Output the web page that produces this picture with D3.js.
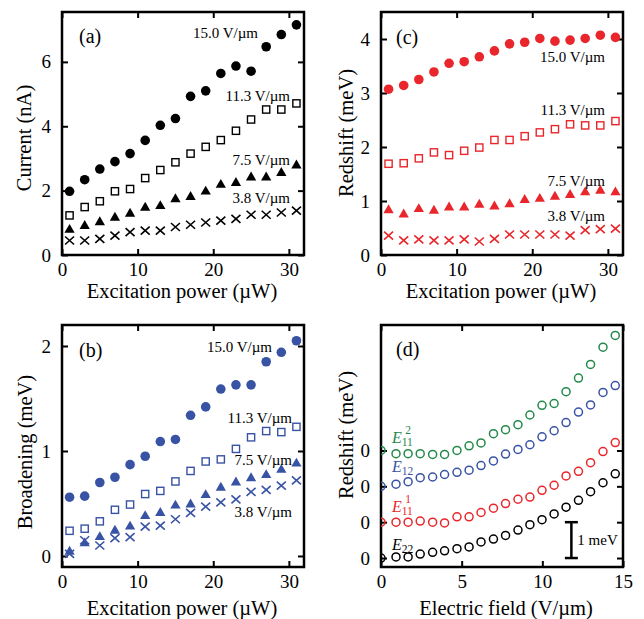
<!DOCTYPE html>
<html>
<head>
<meta charset="utf-8">
<script src="https://cdn.jsdelivr.net/npm/d3@7"></script>
<style>
    body { margin: 0; background: #fff; }
    svg text { font-family: "Liberation Serif", "Times New Roman", serif; }
</style>
</head>
<body>
<div id="graph"></div>
<script>
"use strict";

// excitation power (uW), shared by panels a-c
const power = [1, 3, 5, 7, 9, 11, 13, 15, 17, 19, 21, 23, 25, 27, 29, 31];
const fieldNames = ["15.0 V/\u00b5m", "11.3 V/\u00b5m", "7.5 V/\u00b5m", "3.8 V/\u00b5m"];

// (a) current (nA)
const cur150 = [1.98, 2.34, 2.67, 2.90, 3.15, 3.56, 4.03, 4.24, 4.93, 5.10, 5.64, 5.87, 5.71, 6.47, 6.85, 7.15];
const cur113 = [1.23, 1.49, 1.67, 1.98, 2.05, 2.39, 2.64, 2.88, 3.15, 3.36, 3.57, 3.86, 4.21, 4.52, 4.52, 4.71];
const cur75  = [0.78, 0.90, 1.02, 1.16, 1.28, 1.47, 1.52, 1.73, 1.80, 1.97, 2.18, 2.24, 2.41, 2.41, 2.55, 2.78];
const cur38  = [0.45, 0.45, 0.50, 0.60, 0.71, 0.76, 0.76, 0.87, 0.94, 1.01, 1.07, 1.12, 1.25, 1.25, 1.32, 1.38];

// (b) broadening (meV)
const brd150 = [0.56, 0.57, 0.70, 0.75, 0.87, 0.95, 1.09, 1.11, 1.34, 1.42, 1.59, 1.63, 1.63, 1.85, 1.94, 2.05];
const brd113 = [0.24, 0.26, 0.33, 0.44, 0.49, 0.59, 0.62, 0.71, 0.81, 0.90, 0.92, 1.02, 1.13, 1.19, 1.18, 1.23];
const brd75  = [0.04, 0.12, 0.18, 0.24, 0.28, 0.38, 0.41, 0.48, 0.49, 0.58, 0.65, 0.70, 0.74, 0.77, 0.82, 0.88];
const brd38  = [0.02, 0.15, 0.10, 0.17, 0.18, 0.28, 0.29, 0.35, 0.41, 0.47, 0.51, 0.54, 0.61, 0.63, 0.67, 0.72];

// (c) redshift (meV)
const red150 = [3.07, 3.14, 3.25, 3.39, 3.55, 3.58, 3.67, 3.78, 3.91, 3.94, 4.01, 3.96, 3.98, 4.01, 4.07, 4.03];
const red113 = [1.69, 1.70, 1.79, 1.90, 1.85, 1.93, 1.99, 2.13, 2.13, 2.20, 2.27, 2.33, 2.42, 2.40, 2.40, 2.48];
const red75  = [0.83, 0.75, 0.85, 0.82, 0.88, 0.88, 0.93, 0.90, 0.94, 1.02, 1.04, 1.08, 1.11, 1.16, 1.19, 1.16];
const red38  = [0.36, 0.27, 0.29, 0.27, 0.27, 0.29, 0.25, 0.30, 0.38, 0.38, 0.38, 0.38, 0.36, 0.46, 0.48, 0.49];

// (d) redshift vs electric field, each curve offset by 1 meV
const field = [0, 0.93, 1.68, 2.43, 3.2, 3.94, 4.71, 5.46, 6.2, 6.97, 7.72, 8.49, 9.23, 9.98, 10.73, 11.47, 12.24, 12.99, 13.76, 14.52];
const shiftE22  = [0, 0.03, 0.03, 0.11, 0.16, 0.20, 0.26, 0.31, 0.45, 0.53, 0.63, 0.78, 0.93, 1.07, 1.23, 1.42, 1.61, 1.85, 2.10, 2.35];
const shiftE11a = [0, 0, 0, 0.03, 0, -0.02, 0.15, 0.15, 0.27, 0.39, 0.52, 0.64, 0.70, 0.89, 1.03, 1.29, 1.42, 1.66, 1.97, 2.22];
const shiftE12  = [0, 0.06, 0.13, 0.24, 0.26, 0.33, 0.39, 0.45, 0.58, 0.71, 0.90, 1.03, 1.16, 1.38, 1.55, 1.78, 2.07, 2.27, 2.62, 2.81];
const shiftE11b = [0, -0.09, -0.09, -0.09, -0.11, -0.11, 0, 0.13, 0.21, 0.47, 0.58, 0.72, 0.99, 1.26, 1.31, 1.64, 2.02, 2.40, 2.88, 3.21];
const curveOffsets = [0, 1, 2, 3];
const transSub = ["22", "11", "12", "11"];
const transSup = ["", "1", "", "2"];

const xTicksPower = [0, 10, 20, 30];
const xTicksField = [0, 5, 10, 15];

(function() {
    const RED = "#e8262b";
    const BLUE = "#3953a4";
    const GREEN = "#23894a";

    let svg;

    window.addEventListener("load", init);

    function init() {
        svg = d3.select("#graph")
            .append("svg")
                .attr("width", 644)
                .attr("height", 619);

        drawPanel({
            left: 62, top: 12, w: 242, h: 243,
            xDomain: [0, 32], yDomain: [0, 7.55],
            xTicks: xTicksPower, yTicks: [0, 2, 4, 6],
            color: "#000",
            series: [cur150, cur113, cur75, cur38],
            tag: "(a)", tagPos: [17, 31],
            xTitle: "Excitation power (\u00b5W)", xTitleX: 120, xTitleY: 43,
            yTitle: "Current (nA)", yTitleX: -31, yTitleY: 126,
            notes: [[196, 26], [228, 89], [228, 153], [228, 191]]
        });
        drawPanel({
            left: 381, top: 12, w: 242, h: 243,
            xDomain: [0, 32], yDomain: [0, 4.5],
            xTicks: xTicksPower, yTicks: [0, 1, 2, 3, 4],
            color: RED,
            series: [red150, red113, red75, red38],
            tag: "(c)", tagPos: [15, 32],
            xTitle: "Excitation power (\u00b5W)", xTitleX: 120, xTitleY: 43,
            yTitle: "Redshift (meV)", yTitleX: -28, yTitleY: 121,
            notes: [[224, 50], [224, 103], [224, 174], [224, 209]]
        });
        drawPanel({
            left: 62, top: 325, w: 242, h: 242,
            xDomain: [0, 32], yDomain: [-0.105, 2.2],
            xTicks: xTicksPower, yTicks: [0, 1, 2],
            color: BLUE,
            series: [brd150, brd113, brd75, brd38],
            tag: "(b)", tagPos: [17, 32],
            xTitle: "Excitation power (\u00b5W)", xTitleX: 120, xTitleY: 48,
            yTitle: "Broadening (meV)", yTitleX: -30, yTitleY: 127,
            notes: [[210, 27], [230, 98], [230, 140], [230, 192]]
        });
        drawFieldPanel({
            left: 381, top: 325, w: 242, h: 242
        });
    }

    function makeFrame(cfg, x, y) {
        const g = svg.append("g")
            .attr("transform", "translate(" + cfg.left + "," + cfg.top + ")");

        g.append("g")
            .attr("transform", "translate(0," + cfg.h + ")")
            .call(d3.axisBottom(x).tickValues(cfg.xTicks).tickSizeInner(-6).tickSizeOuter(0).tickPadding(8));
        g.append("g")
            .call(d3.axisTop(x).tickValues(cfg.xTicks).tickSizeInner(-6).tickSizeOuter(0).tickFormat(""));
        g.append("g")
            .call(d3.axisLeft(y).tickValues(cfg.yTicks).tickSizeInner(-6).tickSizeOuter(0)
                .tickPadding(11).tickFormat(cfg.yFormat || d3.format("d")));
        g.append("g")
            .attr("transform", "translate(" + cfg.w + ",0)")
            .call(d3.axisRight(y).tickValues(cfg.yTicks).tickSizeInner(-6).tickSizeOuter(0).tickFormat(""));

        g.selectAll(".domain").remove();
        g.selectAll(".tick line").attr("stroke", "#000").attr("stroke-width", 2);
        g.selectAll(".tick text")
            .attr("fill", "#000")
            .style("font-size", "19px")
            .style("font-family", "'Liberation Serif', serif");

        g.append("rect")
            .attr("width", cfg.w)
            .attr("height", cfg.h)
            .attr("fill", "none")
            .attr("stroke", "#000")
            .attr("stroke-width", 2.5);

        g.append("text")
            .attr("x", cfg.w / 2 + (cfg.xTitleX - 121))
            .attr("y", cfg.h + cfg.xTitleY)
            .attr("text-anchor", "middle")
            .style("font-size", "20.5px")
            .text(cfg.xTitle);
        g.append("text")
            .attr("transform", "translate(" + cfg.yTitleX + "," + cfg.yTitleY + ") rotate(-90)")
            .attr("text-anchor", "middle")
            .style("font-size", "20.5px")
            .text(cfg.yTitle);
        g.append("text")
            .attr("x", cfg.tagPos[0])
            .attr("y", cfg.tagPos[1])
            .style("font-size", "20px")
            .text(cfg.tag);
        return g;
    }

    function drawPanel(cfg) {
        const x = d3.scaleLinear().domain(cfg.xDomain).range([0, cfg.w]);
        const y = d3.scaleLinear().domain(cfg.yDomain).range([cfg.h, 0]);
        const g = makeFrame(cfg, x, y);
        const kinds = ["circle", "square", "triangle", "cross"];

        cfg.series.forEach((vals, i) => {
            const pts = vals.map((v, j) => ({x: power[j], y: v}));
            drawMarks(g, pts, x, y, kinds[i], cfg.color);
        });

        g.selectAll(".note")
            .data(fieldNames)
            .enter()
            .append("text")
                .attr("class", "note")
                .attr("x", (d, i) => cfg.notes[i][0])
                .attr("y", (d, i) => cfg.notes[i][1])
                .attr("text-anchor", "end")
                .style("font-size", "15px")
                .text(d => d);
    }

    function drawMarks(g, pts, x, y, kind, color) {
        const sel = g.append("g").selectAll("g")
            .data(pts)
            .enter()
            .append("g")
                .attr("transform", d => "translate(" + x(d.x) + "," + y(d.y) + ")");
        if (kind === "circle") {
            sel.append("circle").attr("r", 4.8).attr("fill", color);
        } else if (kind === "square") {
            sel.append("rect")
                .attr("x", -3.6).attr("y", -3.6)
                .attr("width", 7.2).attr("height", 7.2)
                .attr("fill", "#fff")
                .attr("stroke", color)
                .attr("stroke-width", 1.4);
        } else if (kind === "triangle") {
            sel.append("path")
                .attr("d", d3.symbol(d3.symbolTriangle).size(46)())
                .attr("fill", color);
        } else {
            sel.append("path")
                .attr("d", "M-4.5,-4L4.5,4M-4.5,4L4.5,-4")
                .attr("stroke", color)
                .attr("stroke-width", 1.6)
                .attr("fill", "none");
        }
    }

    function drawFieldPanel(cfg) {
        cfg.xTicks = xTicksField;
        cfg.yTicks = curveOffsets;
        cfg.yFormat = () => "0";
        cfg.xTitle = "Electric field (V/\u00b5m)";
        cfg.xTitleX = 125; cfg.xTitleY = 48;
        cfg.yTitle = "Redshift (meV)";
        cfg.yTitleX = -28; cfg.yTitleY = 110;
        cfg.tag = "(d)"; cfg.tagPos = [15, 31];

        const x = d3.scaleLinear().domain([0, 15]).range([0, cfg.w]);
        const y = d3.scaleLinear().domain([-0.25, 6.5]).range([cfg.h, 0]);
        const g = makeFrame(cfg, x, y);

        g.append("clipPath")
            .attr("id", "clip-d")
            .append("rect")
                .attr("width", cfg.w)
                .attr("height", cfg.h);

        const curves = [shiftE22, shiftE11a, shiftE12, shiftE11b];
        const colors = ["#000", RED, BLUE, GREEN];
        const plot = g.append("g").attr("clip-path", "url(#clip-d)");

        curves.forEach((vals, i) => {
            plot.append("g").selectAll("circle")
                .data(vals)
                .enter()
                .append("circle")
                    .attr("cx", (d, j) => x(field[j]))
                    .attr("cy", d => y(d + curveOffsets[i]))
                    .attr("r", 4)
                    .attr("fill", "none")
                    .attr("stroke", colors[i])
                    .attr("stroke-width", 1.5);
        });

        // transition labels E_ij
        const labelY = [225, 187, 147, 118];
        curves.forEach((vals, i) => {
            const e = g.append("text")
                .attr("x", 11)
                .attr("y", labelY[i])
                .attr("fill", colors[i])
                .style("font-size", "16px")
                .style("font-style", "italic")
                .text("E");
            const w = e.node().getComputedTextLength();
            g.append("text")
                .attr("x", 11 + w)
                .attr("y", labelY[i] + 3)
                .attr("fill", colors[i])
                .style("font-size", "11.5px")
                .text(transSub[i]);
            if (transSup[i]) {
                g.append("text")
                    .attr("x", 11 + w + 3.5)
                    .attr("y", labelY[i] - 9)
                    .attr("fill", colors[i])
                    .style("font-size", "11.5px")
                    .text(transSup[i]);
            }
        });

        // 1 meV scale bar
        const bx = x(11.8);
        const bar = g.append("g").attr("stroke", "#000").attr("stroke-width", 2.5);
        bar.append("line").attr("x1", bx).attr("x2", bx).attr("y1", y(0)).attr("y2", y(1));
        bar.append("line").attr("x1", bx - 6.5).attr("x2", bx + 6.5).attr("y1", y(0)).attr("y2", y(0));
        bar.append("line").attr("x1", bx - 6.5).attr("x2", bx + 6.5).attr("y1", y(1)).attr("y2", y(1));
        g.append("text")
            .attr("x", bx + 6)
            .attr("y", (y(0) + y(1)) / 2 + 5)
            .style("font-size", "15px")
            .text("1 meV");
    }
})();
</script>
</body>
</html>
